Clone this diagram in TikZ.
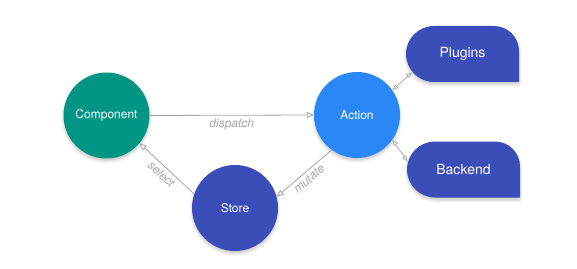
\documentclass[tikz,border=0pt]{standalone}
\usepackage{fontspec}
\setmainfont{TeX Gyre Heros}
\usetikzlibrary{arrows.meta, backgrounds, shapes.misc, shadows.blur}
\definecolor{compteal}{HTML}{009683}
\definecolor{actblue}{HTML}{2A87F6}
\definecolor{storeblue}{HTML}{3B4DB9}
\definecolor{wiregray}{HTML}{A3A3A3}
\definecolor{verbgray}{HTML}{A6A6A6}
\tikzset{
  soft/.style   = {blur shadow={shadow xshift=0pt, shadow yshift=-2.5pt, shadow opacity=22, shadow blur radius=3pt}},
  ball/.style   = {circle, minimum size=86pt, inner sep=0pt, text=white, font=\fontsize{12}{14}\selectfont, soft},
  tab/.style    = {rounded rectangle, rounded rectangle right arc=none, minimum width=113pt, minimum height=56pt, inner sep=0pt, text=white, font=\fontsize{14}{16}\selectfont},
  wire/.style   = {draw=wiregray, line width=0.8pt, -{Triangle[open, length=7pt, width=6pt]}},
  twoway/.style = {draw=wiregray, line width=0.7pt, {Triangle[open, length=6pt, width=4.5pt]}-{Triangle[open, length=6pt, width=4.5pt]}},
  verb/.style   = {font=\itshape\fontsize{12}{14}\selectfont, text=verbgray, inner sep=3pt},
}
\newcommand{\tabfill}[1]{%
  \fill[storeblue, soft] ([shift={(56.5pt,-28pt)}]#1.center) -- ++(0pt,31pt)
    arc[start angle=0, end angle=90, radius=25pt] -- ++(-60pt,0pt)
    arc[start angle=90, end angle=270, radius=28pt] -- cycle;
}

\begin{document}
\begin{tikzpicture}[x=1pt, y=1pt]
  \useasboundingbox (0,0) rectangle (577,268);
  \node[ball, fill=compteal]  (component) at (106.5,152.5) {Component};
  \node[ball, fill=actblue]   (action)    at (357,153)     {Action};
  \node[ball, fill=storeblue] (store)     at (235,60)      {Store};
  \node[tab] (plugins) at (462.5,214)  {Plugins};
  \node[tab] (backend) at (463.5,98.5) {Backend};
  \begin{scope}[on background layer]
    \tabfill{plugins}
    \tabfill{backend}
  \end{scope}
  \draw[wire] (component.east) -- node[verb, below] {dispatch} (action.west);
  \draw[wire] (store.161) -- node[verb, sloped, below] {select} (component.-40);
  \draw[wire] (action.234) -- node[verb, sloped, below] {mutate} (store.15);
  \draw[twoway] (action.35) -- (plugins.200);
  \draw[twoway] (action.-35) -- (backend.172);
\end{tikzpicture}
\end{document}
